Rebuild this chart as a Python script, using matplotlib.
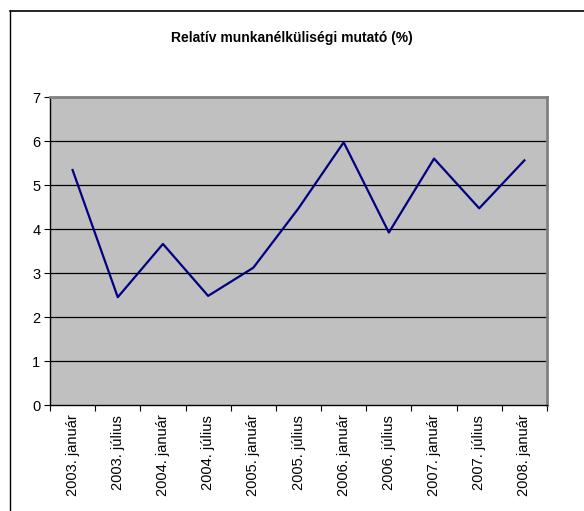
import matplotlib.pyplot as plt
from matplotlib.lines import Line2D

# Adatok
categories = ["2003. január", "2003. július", "2004. január", "2004. július",
              "2005. január", "2005. július", "2006. január", "2006. július",
              "2007. január", "2007. július", "2008. január"]
values = [5.34, 2.45, 3.66, 2.48, 3.12, 4.47, 5.97, 3.92, 5.60, 4.47, 5.56]
title = "Relatív munkanélküliségi mutató (%)"

plt.rcParams['font.family'] = ['Liberation Sans', 'DejaVu Sans']

fig = plt.figure(figsize=(5.84, 5.11), dpi=100)
ax = fig.add_axes([50 / 584, 1 - 405 / 511, 497 / 584, 308 / 511])
ax.set_facecolor("#c0c0c0")

x = list(range(len(categories)))
ax.plot(x, values, color="#000080", linewidth=1.6, zorder=3)

ax.set_xlim(-0.5, len(categories) - 0.5)
ax.set_ylim(0, 7)
ax.set_yticks(range(0, 8))
for y in range(1, 7):
    ax.axhline(y, color="black", linewidth=0.9, zorder=1)

# tick marks between categories, labels at centres
ax.set_xticks([i - 0.5 for i in range(len(categories) + 1)])
ax.set_xticklabels([])
ax.set_xticks(x, minor=True)
ax.set_xticklabels(categories, minor=True, rotation=90, fontsize=10.5)
ax.tick_params(axis="x", which="minor", length=0, pad=7)
ax.tick_params(axis="x", which="major", length=4, direction="out", width=0.8)
ax.tick_params(axis="y", length=4, direction="out", width=0.8, labelsize=10.5, pad=3)

for side in ["top", "right"]:
    ax.spines[side].set_color("#808080")
    ax.spines[side].set_linewidth(2)
for side in ["left", "bottom"]:
    ax.spines[side].set_color("black")
    ax.spines[side].set_linewidth(1)

fig.text(292 / 584, 1 - 38 / 511, title, ha="center", va="center",
         fontsize=10, fontweight="bold")

# chart border (left and top only visible)
fig.add_artist(Line2D([10 / 584, 10 / 584], [0, 1 - 11 / 511], color="black",
                      linewidth=1, transform=fig.transFigure))
fig.add_artist(Line2D([10 / 584, 1], [1 - 11 / 511, 1 - 11 / 511], color="black",
                      linewidth=1.2, transform=fig.transFigure))

fig.savefig("out.png", dpi=100)
